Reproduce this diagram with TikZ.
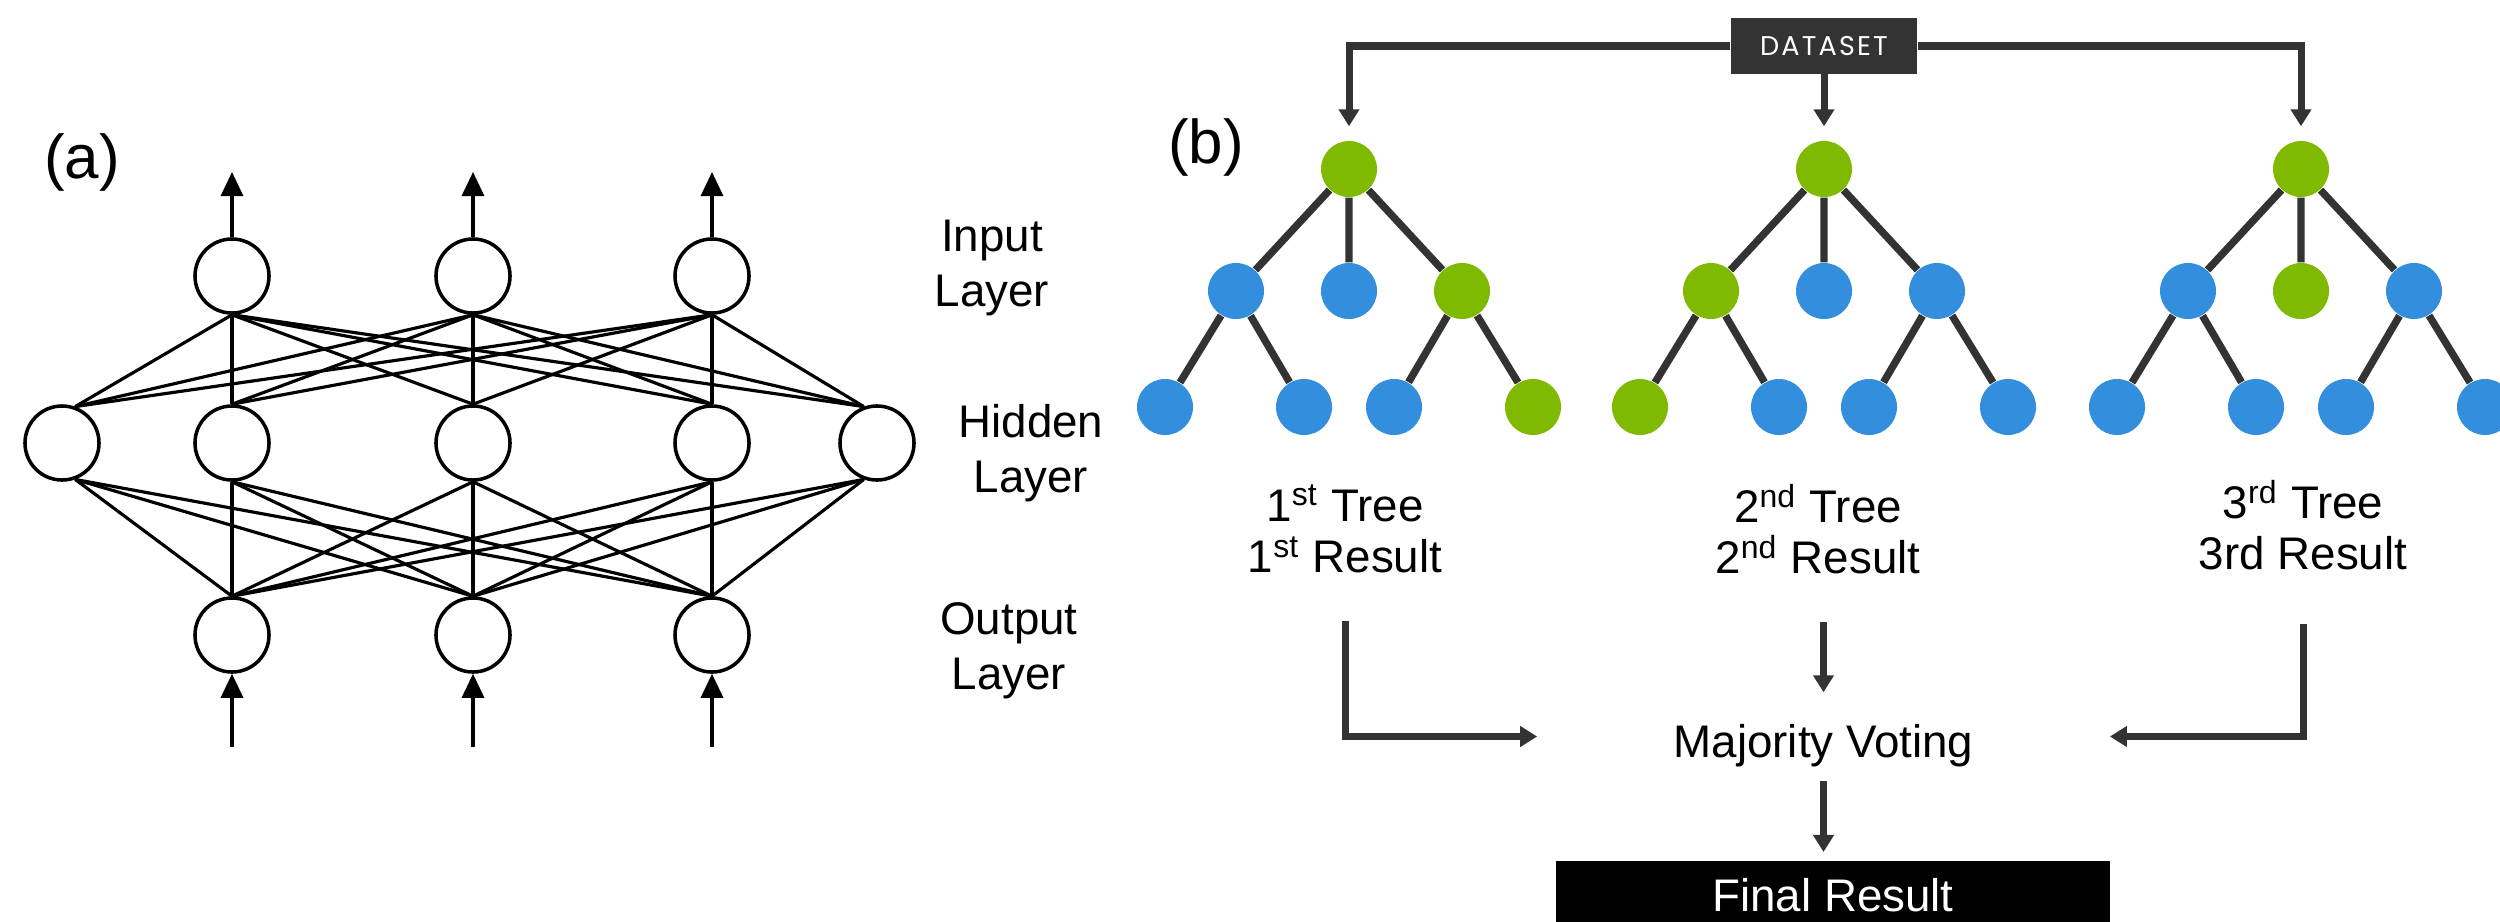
\documentclass[tikz,border=0pt]{standalone}
\usepackage{fontspec}
\setmainfont{Liberation Sans}
\newfontfamily\datasetfont[LetterSpace=8]{Poppins}
\usetikzlibrary{arrows.meta}

\definecolor{treegreen}{RGB}{127,186,0}
\definecolor{treeblue}{RGB}{52,142,222}
\definecolor{flowgray}{RGB}{51,51,51}

\tikzset{
  neuron/.style={circle, draw=black, line width=1pt, fill=white, minimum size=0.74cm, inner sep=0pt},
  synapse/.style={line width=0.9pt},
  signal/.style={line width=0.9pt, -{Triangle[length=0.24cm, width=0.22cm]}},
  layerlabel/.style={align=center, font=\fontsize{13}{15.65}\selectfont},
  treenode/.style={circle, minimum size=0.56cm, inner sep=0pt},
  branch/.style={line width=2.1pt, draw=flowgray},
  flow/.style={line width=2pt, draw=flowgray, -{Triangle[length=0.17cm, width=0.2cm]}},
  resultlabel/.style={align=center, inner sep=0pt, font=\fontsize{13}{14.6}\selectfont},
  panellabel/.style={font=\fontsize{17.6}{20}\selectfont}
}

\begin{document}
\begin{tikzpicture}[x=0.01cm, y=-0.01cm]
\useasboundingbox (0,0) rectangle (2500,921);
\clip (0,0) rectangle (2500,921);

% (a) neural network
\node[panellabel] (panela) at (82,162) {(a)};
\foreach \i/\x in {1/232, 2/473, 3/712} {
  \node[neuron] (in\i) at (\x,276) {};
  \node[neuron] (out\i) at (\x,635) {};
  \coordinate (top\i) at (\x,172);
  \coordinate (foot\i) at (\x,747);
}
\foreach \j/\x in {1/62, 2/232, 3/473, 4/712, 5/877}
  \node[neuron] (hid\j) at (\x,443) {};

% every neuron to every hidden one
\foreach \j/\up/\dn in {1/70/-70, 2/90/-90, 3/90/-90, 4/90/-90, 5/110/-110}
  \foreach \i in {1,2,3} {
    \draw[synapse] (in\i.south) -- (hid\j.\up);
    \draw[synapse] (out\i.north) -- (hid\j.\dn);
  }
\foreach \i in {1,2,3} {
  \draw[signal] (in\i) -- (top\i);
  \draw[signal] (foot\i) -- (out\i);
}

\node[layerlabel] (inputlab) at (992,268) {Input\\Layer};
\node[layerlabel] (hiddenlab) at (1031,453) {Hidden\\Layer};
\node[layerlabel] (outputlab) at (1009,651) {Output\\Layer};

% (b) random forest
\node[panellabel] (panelb) at (1206,147) {(b)};
\node[fill=flowgray, text=white, minimum width=1.86cm, minimum height=0.55cm, inner sep=0pt,
  font=\datasetfont\fontsize{7.7}{8}\selectfont] (dataset) at (1824,46) {DATASET};

\foreach \t/\x/\ca/\cb/\cc/\caa/\cab/\cca/\ccb in {
  1/1349/treeblue/treeblue/treegreen/treeblue/treeblue/treeblue/treegreen,
  2/1824/treegreen/treeblue/treeblue/treegreen/treeblue/treeblue/treeblue,
  3/2301/treeblue/treegreen/treeblue/treeblue/treeblue/treeblue/treeblue} {
  \node[treenode, fill=treegreen] (r\t) at (\x,169) {};
  \node[treenode, fill=\ca] (a\t) at (\x-113,291) {};
  \node[treenode, fill=\cb] (b\t) at (\x,291) {};
  \node[treenode, fill=\cc] (c\t) at (\x+113,291) {};
  \node[treenode, fill=\caa] (aa\t) at (\x-184,407) {};
  \node[treenode, fill=\cab] (ab\t) at (\x-45,407) {};
  \node[treenode, fill=\cca] (ca\t) at (\x+45,407) {};
  \node[treenode, fill=\ccb] (cb\t) at (\x+184,407) {};
  \draw[branch] (r\t) -- (a\t) (r\t) -- (b\t) (r\t) -- (c\t)
    (a\t) -- (aa\t) (a\t) -- (ab\t) (c\t) -- (ca\t) (c\t) -- (cb\t);
}

\draw[flow, shorten >=0.14cm] (dataset) -| (r1);
\draw[flow, shorten >=0.14cm] (dataset) -- (r2);
\draw[flow, shorten >=0.14cm] (dataset) -| (r3);

\node[resultlabel] (res1) at (1345,529) {1\textsuperscript{st} Tree\\1\textsuperscript{st} Result};
\node[resultlabel] (res2) at (1818,529) {2\textsuperscript{nd} Tree\\2\textsuperscript{nd} Result};
\node[resultlabel] (res3) at (2303,525) {3\textsuperscript{rd} Tree\\3rd Result};

\node[font=\fontsize{13}{15.6}\selectfont, minimum width=5.71cm, text height=0.5cm, text depth=0.09cm,
  inner xsep=0pt, inner ysep=0.14cm] (vote) at (1823.5,736.5) {Majority Voting};
\node[fill=black, text=white, font=\fontsize{13}{15.6}\selectfont, minimum width=5.54cm,
  text height=0.51cm, text depth=0.5cm, inner sep=0pt, anchor=north] (final) at (1833,860) {Final Result};

\draw[flow, shorten <=0.47cm] (res1) |- (vote);
\draw[flow, shorten <=0.47cm] (res2.south -| vote.north) -- (vote.north);
\draw[flow, shorten <=0.53cm] (res3) |- (vote);
\draw[flow, shorten >=0.08cm] (vote.south) -- (vote.south |- final.north);
\end{tikzpicture}
\end{document}
